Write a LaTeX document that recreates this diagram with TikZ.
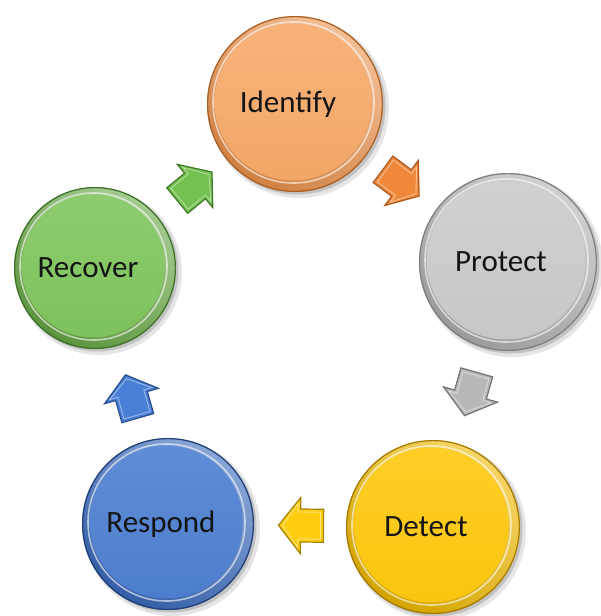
\documentclass[tikz,border=0pt]{standalone}
\usepackage{fontspec}
\setmainfont{Carlito}
\usetikzlibrary{calc}
\definecolor{orRim}{RGB}{236,146,76}
\definecolor{orFace}{RGB}{247,170,106}
\definecolor{orEdge}{RGB}{170,95,35}
\definecolor{orArrow}{RGB}{240,136,58}
\definecolor{orArrowEdge}{RGB}{170,90,30}
\definecolor{grRim}{RGB}{176,176,176}
\definecolor{grFace}{RGB}{203,203,203}
\definecolor{grEdge}{RGB}{125,125,125}
\definecolor{grArrow}{RGB}{184,184,184}
\definecolor{grArrowEdge}{RGB}{115,115,115}
\definecolor{yeRim}{RGB}{240,186,0}
\definecolor{yeFace}{RGB}{255,201,14}
\definecolor{yeEdge}{RGB}{165,120,0}
\definecolor{yeArrow}{RGB}{255,204,16}
\definecolor{yeArrowEdge}{RGB}{165,130,0}
\definecolor{blRim}{RGB}{58,106,188}
\definecolor{blFace}{RGB}{78,128,210}
\definecolor{blEdge}{RGB}{30,62,120}
\definecolor{blArrow}{RGB}{74,127,214}
\definecolor{blArrowEdge}{RGB}{40,78,145}
\definecolor{gnRim}{RGB}{104,168,70}
\definecolor{gnFace}{RGB}{128,198,94}
\definecolor{gnEdge}{RGB}{60,112,38}
\definecolor{gnArrow}{RGB}{116,192,80}
\definecolor{gnArrowEdge}{RGB}{63,122,42}
\tikzset{
  coinnode/.style={circle, inner sep=0pt, minimum size=#1},
  coinlabel/.style={text=black!92, font=\fontsize{31}{36}\selectfont},
}
% #1 name, #2 position, #3 radius, #4 colour prefix, #5 text
\newcommand\coin[5]{%
  \node[coinnode=#3*2pt] (#1) at (#2) {};
  \fill[black,opacity=0.10] ($(#1.center)+(4,4)$) circle (#3+2);
  \fill[black,opacity=0.15] ($(#1.center)+(2.5,2.5)$) circle (#3);
  \shade[top color=#4Rim!60!white, bottom color=#4Rim!88!black, shading angle=-35] (#1.center) circle (#3);
  \draw[#4Edge, line width=1.2pt] (#1.center) circle (#3-0.6);
  \draw[white, opacity=0.6, line width=1.6pt] ($(#1.center)+(-1.5,-1.5)$) circle (#3-7.5);
  \shade[top color=#4Face!90!white, bottom color=#4Face!98!black] ($(#1.center)+(-2,-2)$) circle (#3-9.5);
  \node[coinlabel] (#1-label) at ($(#1.center)+(-7,0)$) {#5};
}
% #1 from node, #2 to node, #3 colour prefix
\newcommand\blockarrow[3]{%
  \pgfmathanglebetweenpoints{\pgfpointanchor{#1}{center}}{\pgfpointanchor{#2}{center}}%
  \let\arrang\pgfmathresult
  \begin{scope}[shift={($(#1)!0.5!(#2)$)}, rotate=\arrang]
    \filldraw[fill=#3Arrow, draw=#3ArrowEdge, line width=1.2pt, line join=miter]
      (-23,-16.5) -- (0,-16.5) -- (0,-28) -- (22,0) -- (0,28) -- (0,16.5) -- (-23,16.5) -- cycle;
    \draw[white, opacity=0.45, line width=0.9pt]
      (-20,-13.5) -- (2.5,-13.5) -- (2.5,-22) -- (18,0) -- (2.5,22) -- (2.5,13.5) -- (-20,13.5) -- cycle;
  \end{scope}
}
\begin{document}
\begin{tikzpicture}[x=1pt, y=-1pt]
  \useasboundingbox (0,0) rectangle (600,616);
  \fill[white] (0,0) rectangle (600,616);
  \coin{I}{295,104}{88}{or}{Identify}
  \coin{P}{508,262}{89}{gr}{Protect}
  \coin{D}{433,527}{87}{ye}{Detect}
  \coin{R}{168,524}{86}{bl}{Respond}
  \coin{C}{95,268}{81}{gn}{Recover}
  \blockarrow{I}{P}{or}
  \blockarrow{P}{D}{gr}
  \blockarrow{D}{R}{ye}
  \blockarrow{R}{C}{bl}
  \blockarrow{C}{I}{gn}
\end{tikzpicture}
\end{document}
